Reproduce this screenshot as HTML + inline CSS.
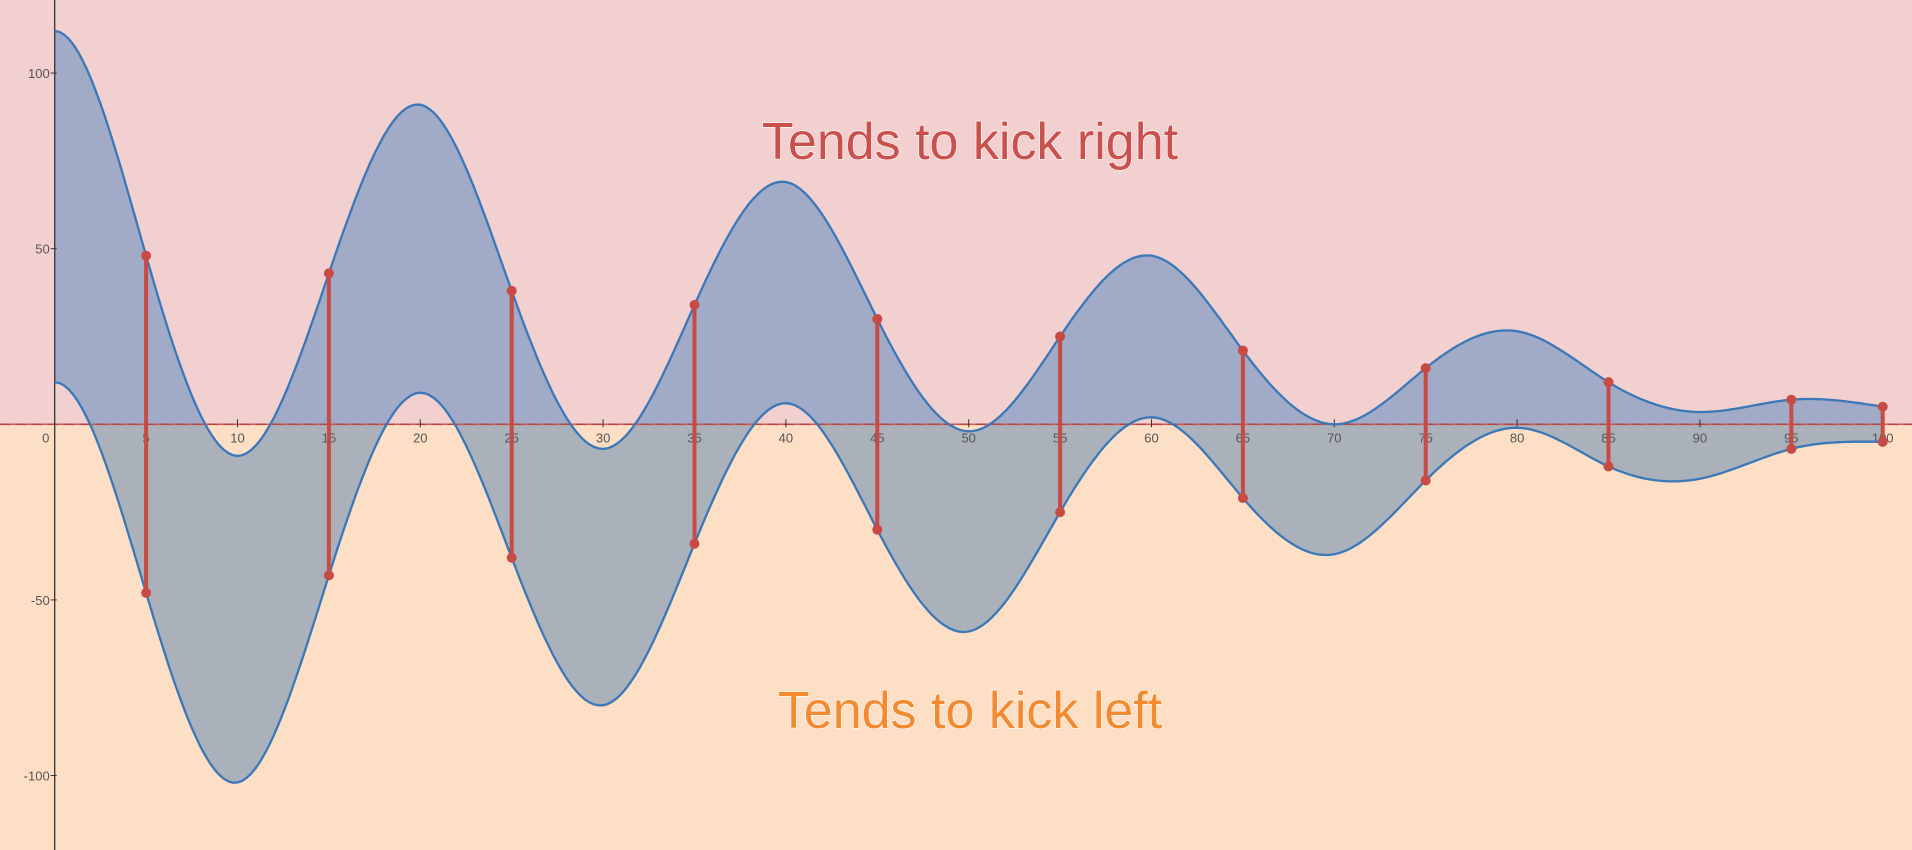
<!DOCTYPE html>
<html><head><meta charset="utf-8"><style>
html,body{margin:0;padding:0;width:1912px;height:850px;overflow:hidden;background:#fddfc6}
svg{display:block}
text{font-family:"Liberation Sans",Arial,sans-serif}
</style></head><body>
<svg id="chart" width="1912" height="850" viewBox="0 0 1912 850" xmlns="http://www.w3.org/2000/svg">
<defs>
<clipPath id="clipTop"><rect x="0" y="0" width="1912" height="424.3"/></clipPath>
<clipPath id="clipBot"><rect x="0" y="424.3" width="1912" height="430"/></clipPath>
</defs>
<rect x="0" y="0" width="1912" height="424.3" fill="#f2d0d0"/>
<rect x="0" y="424.3" width="1912" height="426" fill="#fddfc6"/>
<g id="fills"></g>
<g id="axes"></g>
<g id="curves"></g>
<g id="markers"></g>
<text x="970" y="159" text-anchor="middle" font-size="52" fill="#c9504c" stroke="#fff" stroke-width="1.2" paint-order="stroke">Tends to kick right</text>
<text x="970" y="728" text-anchor="middle" font-size="52" fill="#f48a30" stroke="#fff" stroke-width="1.2" paint-order="stroke">Tends to kick left</text>
</svg>
<script>
const xs = [0,5,10,15,20,25,30,35,40,45,50,55,60,65,70,75,80,85,90,95,100];
const upper = [112,48,-9,43,91,38,-7,34,69,30,-2,25,48,21,0,16,26.5,12,3.5,7,5];
const lower = [12,-48,-102,-43,9,-38,-80,-34,6,-30,-59,-25,2,-21,-37,-16,-1,-12,-15.5,-7,-5];
const markerX = [5,15,25,35,45,55,65,75,85,95,100];
const xTicks = [0,5,10,15,20,25,30,35,40,45,50,55,60,65,70,75,80,85,90,95,100];
const yTicks = [100,50,-50,-100];

const NS = "http://www.w3.org/2000/svg";
const X = v => 54.7 + v * 18.28;
const Y = v => 424.3 - v * 3.512;
function mk(tag, attrs, parent){const e=document.createElementNS(NS,tag);for(const k in attrs)e.setAttribute(k,attrs[k]);parent.appendChild(e);return e;}
function spline(arr){ // clamped start slope 0, natural end
  const n=arr.length,h=5,M=new Array(n).fill(0);
  const a=[],b=[],c=[],d=[];
  for(let i=0;i<n;i++){
    if(i===0){a[i]=0;b[i]=2*h;c[i]=h;d[i]=6*((arr[1]-arr[0])/h-0);}
    else if(i===n-1){a[i]=0;b[i]=1;c[i]=0;d[i]=0;}
    else{a[i]=h;b[i]=4*h;c[i]=h;d[i]=6*((arr[i+1]-arr[i])/h-(arr[i]-arr[i-1])/h);}
  }
  for(let i=1;i<n;i++){const w=a[i]/b[i-1];b[i]-=w*c[i-1];d[i]-=w*d[i-1];}
  M[n-1]=d[n-1]/b[n-1];
  for(let i=n-2;i>=0;i--)M[i]=(d[i]-c[i]*M[i+1])/b[i];
  return M;
}
const Mu=spline(upper), Ml=spline(lower);
function valAt(arr,M,x){
  let i=Math.min(Math.floor(x/5),xs.length-2);
  const h=5,A=(xs[i+1]-x)/h,B=(x-xs[i])/h;
  return A*arr[i]+B*arr[i+1]+((A*A*A-A)*M[i]+(B*B*B-B)*M[i+1])*h*h/6;
}
function pts(arr,M){const p=[];for(let x=0;x<=100.0001;x+=0.25)p.push([X(x),Y(valAt(arr,M,x))]);return p;}
const up=pts(upper,Mu), lo=pts(lower,Ml);
const upD="M"+up.map(p=>p[0].toFixed(1)+","+p[1].toFixed(1)).join("L");
const loD="M"+lo.map(p=>p[0].toFixed(1)+","+p[1].toFixed(1)).join("L");
const areaD=upD+"L"+lo.slice().reverse().map(p=>p[0].toFixed(1)+","+p[1].toFixed(1)).join("L")+"Z";
const fills=document.getElementById("fills");
const f1=mk("path",{d:areaD,fill:"#a1aac6","clip-path":"url(#clipTop)"},fills);


const f2=mk("path",{d:areaD,fill:"#aab1bb","clip-path":"url(#clipBot)"},fills);



const axes=document.getElementById("axes");
const xl=mk("line",{x1:0,x2:1912,y1:Y(0),y2:Y(0),stroke:"#333","stroke-width":1.5,"stroke-dasharray":"10,6"},axes);


const rl=mk("line",{x1:0,x2:1912,y1:Y(0),y2:Y(0),stroke:"#c84a45","stroke-width":1.6,opacity:0.85},axes);


const yl=mk("line",{x1:X(0),x2:X(0),y1:0,y2:850,stroke:"#333","stroke-width":1.3},axes);


xTicks.forEach(t=>{
  if(t>0){const tk=mk("line",{x1:X(t),x2:X(t),y1:Y(0)-5,y2:Y(0)+3,stroke:"#333","stroke-width":1},axes);
  
  }
  const tx=mk("text",{x:t===0?X(0)-9:X(t),y:Y(0)+18,"text-anchor":"middle","font-size":13,fill:"#555"},axes);
  tx.textContent=t;
  
  
});
yTicks.forEach(t=>{
  const tk=mk("line",{x1:X(0)-4,x2:X(0)+2,y1:Y(t),y2:Y(t),stroke:"#333","stroke-width":1},axes);
  
  
  const tx=mk("text",{x:X(0)-5,y:Y(t)+5,"text-anchor":"end","font-size":13,fill:"#555"},axes);
  tx.textContent=t;
  
  
});

const curves=document.getElementById("curves");
const c1=mk("path",{d:upD,fill:"none",stroke:"#3a78b8","stroke-width":2.3},curves);


const c2=mk("path",{d:loD,fill:"none",stroke:"#3a78b8","stroke-width":2.3},curves);



const markers=document.getElementById("markers");
markerX.forEach(m=>{
  const a=valAt(upper,Mu,m), b=valAt(lower,Ml,m);
  const ln=mk("line",{x1:X(m),x2:X(m),y1:Y(a),y2:Y(b),stroke:"#c84a45","stroke-width":4},markers);
  
  
  [a,b].forEach(v=>{
    const c=mk("circle",{cx:X(m),cy:Y(v),r:5,fill:"#c84a45"},markers);
    
    
  });
});
</script>
</body></html>
